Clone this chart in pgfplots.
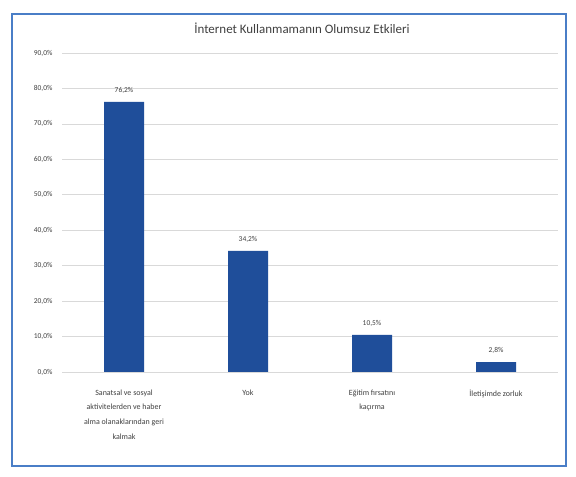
\documentclass[border=0pt]{standalone}
\usepackage{pgfplots}
\pgfplotsset{compat=1.18}
\usepackage{fontspec}
\setmainfont{Carlito}
\definecolor{barblue}{HTML}{1F4E9A}
\definecolor{frameblue}{HTML}{4A7EC7}
\definecolor{txtgray}{HTML}{404040}
\definecolor{gridgray}{HTML}{D9D9D9}
\begin{document}
\begin{tikzpicture}[x=1bp,y=1bp]
\useasboundingbox (0,0) rectangle (576,477);
\fill[white] (0,0) rectangle (576,477);
\draw[frameblue, line width=1.5bp] (12,11) rectangle (566,463);
\node[font=\fontsize{13}{15}\selectfont, text=txtgray] at (302,449) {İnternet Kullanmamanın Olumsuz Etkileri};
\begin{axis}[
  at={(62bp,105bp)}, anchor=south west,
  scale only axis, width=496bp, height=319bp,
  xmin=-0.5, xmax=3.5, ymin=0, ymax=90,
  /pgf/number format/assume math mode=true,
  ytick={0,10,...,90},
  yticklabel={\pgfmathprintnumber[fixed,fixed zerofill,precision=1,use comma]{\tick}\%},
  yticklabel style={font=\fontsize{7.5}{9}\selectfont, text=txtgray, xshift=-6bp},
  xtick={0,1,2,3},
  xticklabels={{Sanatsal ve sosyal\\aktivitelerden ve haber\\alma olanaklarından geri\\kalmak}, Yok, {Eğitim fırsatını\\kaçırma}, {İletişimde zorluk}},
  xticklabel style={align=center, font=\fontsize{8}{15}\selectfont, text=txtgray, yshift=-14bp},
  major tick length=0pt,
  axis line style={draw=none},
  ymajorgrids, grid style={gridgray, line width=0.7bp},
  ybar, bar width=40bp,
  nodes near coords={\pgfmathprintnumber[fixed,fixed zerofill,precision=1,use comma]{\pgfplotspointmeta}\%},
  nodes near coords style={font=\fontsize{7.5}{9}\selectfont, text=txtgray, yshift=5bp},
]
\addplot[fill=barblue, draw=none] coordinates {(0,76.2) (1,34.2) (2,10.5) (3,2.8)};
\end{axis}
\end{tikzpicture}
\end{document}
